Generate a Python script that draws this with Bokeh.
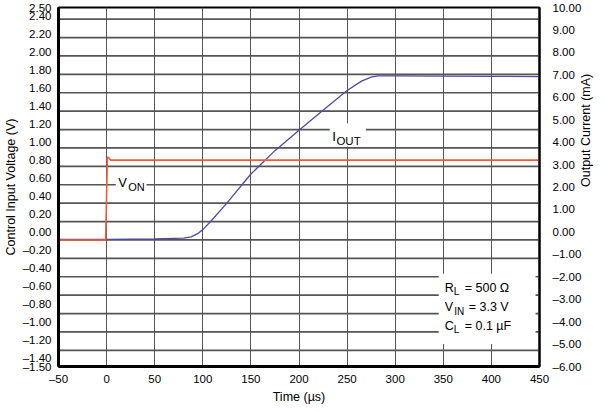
import math
from bokeh.plotting import figure
from bokeh.models import (Range1d, LinearAxis, FixedTicker, CustomJSTickFormatter,
                          Label, BoxAnnotation, Grid)
from bokeh.embed import file_html
from bokeh.resources import INLINE

# ---------------- data ----------------
time_von = [-50, -25, -1, 0.8, 2, 4, 50, 100, 200, 300, 400, 450]
v_on = [-0.09, -0.09, -0.09, 0.83, 0.83, 0.80, 0.80, 0.80, 0.80, 0.80, 0.80, 0.80]

time_iout = [-50, 0, 50, 80, 88, 95, 100, 110, 125, 150, 175, 200, 225, 250,
             265, 275, 282, 300, 350, 400, 450]
i_out = [-0.33, -0.33, -0.31, -0.28, -0.22, -0.07, 0.10, 0.55, 1.28, 2.58, 3.62,
         4.53, 5.42, 6.30, 6.72, 6.90, 6.95, 6.95, 6.94, 6.93, 6.92]

x_ticks = [-50, 0, 50, 100, 150, 200, 250, 300, 350, 400, 450]
left_ticks = [-1.5, -1.4, -1.2, -1.0, -0.8, -0.6, -0.4, -0.2, 0.0, 0.2, 0.4, 0.6,
              0.8, 1.0, 1.2, 1.4, 1.6, 1.8, 2.0, 2.2, 2.4, 2.5]
right_ticks = [-6, -5, -4, -3, -2, -1, 0, 1, 2, 3, 4, 5, 6, 7, 8, 9, 10]

# ---------------- style ----------------
FONT = "Liberation Sans"
RED = "#ee5b3c"
BLUE = "#4f4aa6"
GRID = "#555555"
grid_levels = [round(2.37 - 0.205 * k, 3) for k in range(19)]

p = figure(frame_width=481, frame_height=359, x_range=Range1d(-50, 450),
           y_range=Range1d(-1.5, 2.5),
           output_backend="svg", toolbar_location=None,
           min_border_left=10, min_border_right=10, min_border_top=7, min_border_bottom=10)
p.background_fill_color = "white"
p.outline_line_color = "black"
p.outline_line_width = 2

p.extra_y_ranges = {"cur": Range1d(-6, 10)}

fmt2 = CustomJSTickFormatter(code="return (tick < -1e-9 ? '\\u2013' : '') + Math.abs(tick).toFixed(2);")
fmt0 = CustomJSTickFormatter(code="return (tick < 0 ? '\\u2013' : '') + Math.abs(tick).toFixed(0);")

# x axis
xa = p.xaxis[0]
xa.ticker = FixedTicker(ticks=x_ticks)
xa.formatter = fmt0
xa.axis_label = "Time (µs)"

# left axis
ya = p.yaxis[0]
ya.ticker = FixedTicker(ticks=left_ticks)
ya.formatter = fmt2
ya.axis_label = "Control Input Voltage (V)"

# right axis
ra = LinearAxis(y_range_name="cur", ticker=FixedTicker(ticks=right_ticks), formatter=fmt2,
                axis_label="Output Current (mA)")
p.add_layout(ra, "right")
if "axis_label_orientation" in ra.properties():
    ra.axis_label_orientation = math.pi / 2

for ax in (xa, ya, ra):
    ax.major_tick_out = 0
    ax.major_tick_in = 0
    ax.minor_tick_out = 0
    ax.minor_tick_in = 0
    ax.axis_line_color = "black"
    ax.axis_line_width = 2
    ax.major_label_text_font = FONT
    ax.major_label_text_font_size = "11.5px"
    ax.major_label_text_color = "black"
    ax.axis_label_text_font = FONT
    ax.axis_label_text_font_size = "12.5px"
    ax.axis_label_text_font_style = "normal"
    ax.axis_label_text_color = "black"
    ax.axis_label_standoff = 2
xa.axis_line_width = 3
ya.axis_line_width = 3
xa.major_label_standoff = 6
ya.major_label_standoff = 7
ra.major_label_standoff = 13

# grids
p.xgrid.visible = False
p.ygrid.visible = False
gx = Grid(dimension=0, ticker=FixedTicker(ticks=x_ticks), grid_line_color=GRID, grid_line_width=1)
p.add_layout(gx, "center")
grid_xs = [[-50, 450] for _ in grid_levels]
grid_ys = [[g, g] for g in grid_levels]
p.multi_line(grid_xs, grid_ys, line_color=GRID, line_width=1.7)

# data lines
p.line(time_iout, i_out, y_range_name="cur", line_color=BLUE, line_width=1.3)
p.line(time_von, v_on, line_color=RED, line_width=1.6)

# white boxes behind annotation texts
def wbox(l, r, b, t):
    p.add_layout(BoxAnnotation(left=l, right=r, bottom=b, top=t, fill_color="white",
                               fill_alpha=1.0, line_alpha=0, level="annotation"))

def lab(x, y, text, size, dx=0.0, dy=0.0):
    p.add_layout(Label(x=x, y=y, x_offset=dx, y_offset=dy, text=text, text_font=FONT,
                       text_font_size=f"{size}px", text_baseline="middle",
                       text_align="left", text_color="black"))

VON_X, VON_Y = 12, 0.55
IOUT_X, IOUT_Y = 234.5, 1.06
BOX_X = 351.5
BOX_Y = [-0.62, -0.838, -1.045]

wbox(9.5, 41.5, 0.46, 0.64)
lab(VON_X, VON_Y, "V", 13)
lab(VON_X, VON_Y, "ON", 11, dx=10, dy=-4.5)

wbox(232, 269.5, 0.95, 1.21)
lab(IOUT_X, IOUT_Y, "I", 13.5)
lab(IOUT_X, IOUT_Y, "OUT", 11.5, dx=4.2, dy=-4.5)

wbox(345.2, 445.9, -1.25, -0.467)
lab(BOX_X, BOX_Y[0], "R", 12.5)
lab(BOX_X, BOX_Y[0], "L", 10, dx=9, dy=-4)
lab(BOX_X, BOX_Y[0], "= 500 Ω", 12.5, dx=20)
lab(BOX_X, BOX_Y[1], "V", 12.5)
lab(BOX_X, BOX_Y[1], "IN", 10, dx=9.5, dy=-4)
lab(BOX_X, BOX_Y[1], "= 3.3 V", 12.5, dx=24)
lab(BOX_X, BOX_Y[2], "C", 12.5)
lab(BOX_X, BOX_Y[2], "L", 10, dx=9, dy=-4)
lab(BOX_X, BOX_Y[2], "= 0.1 µF", 12.5, dx=20)

open("out.html", "w").write(file_html(p, INLINE))
